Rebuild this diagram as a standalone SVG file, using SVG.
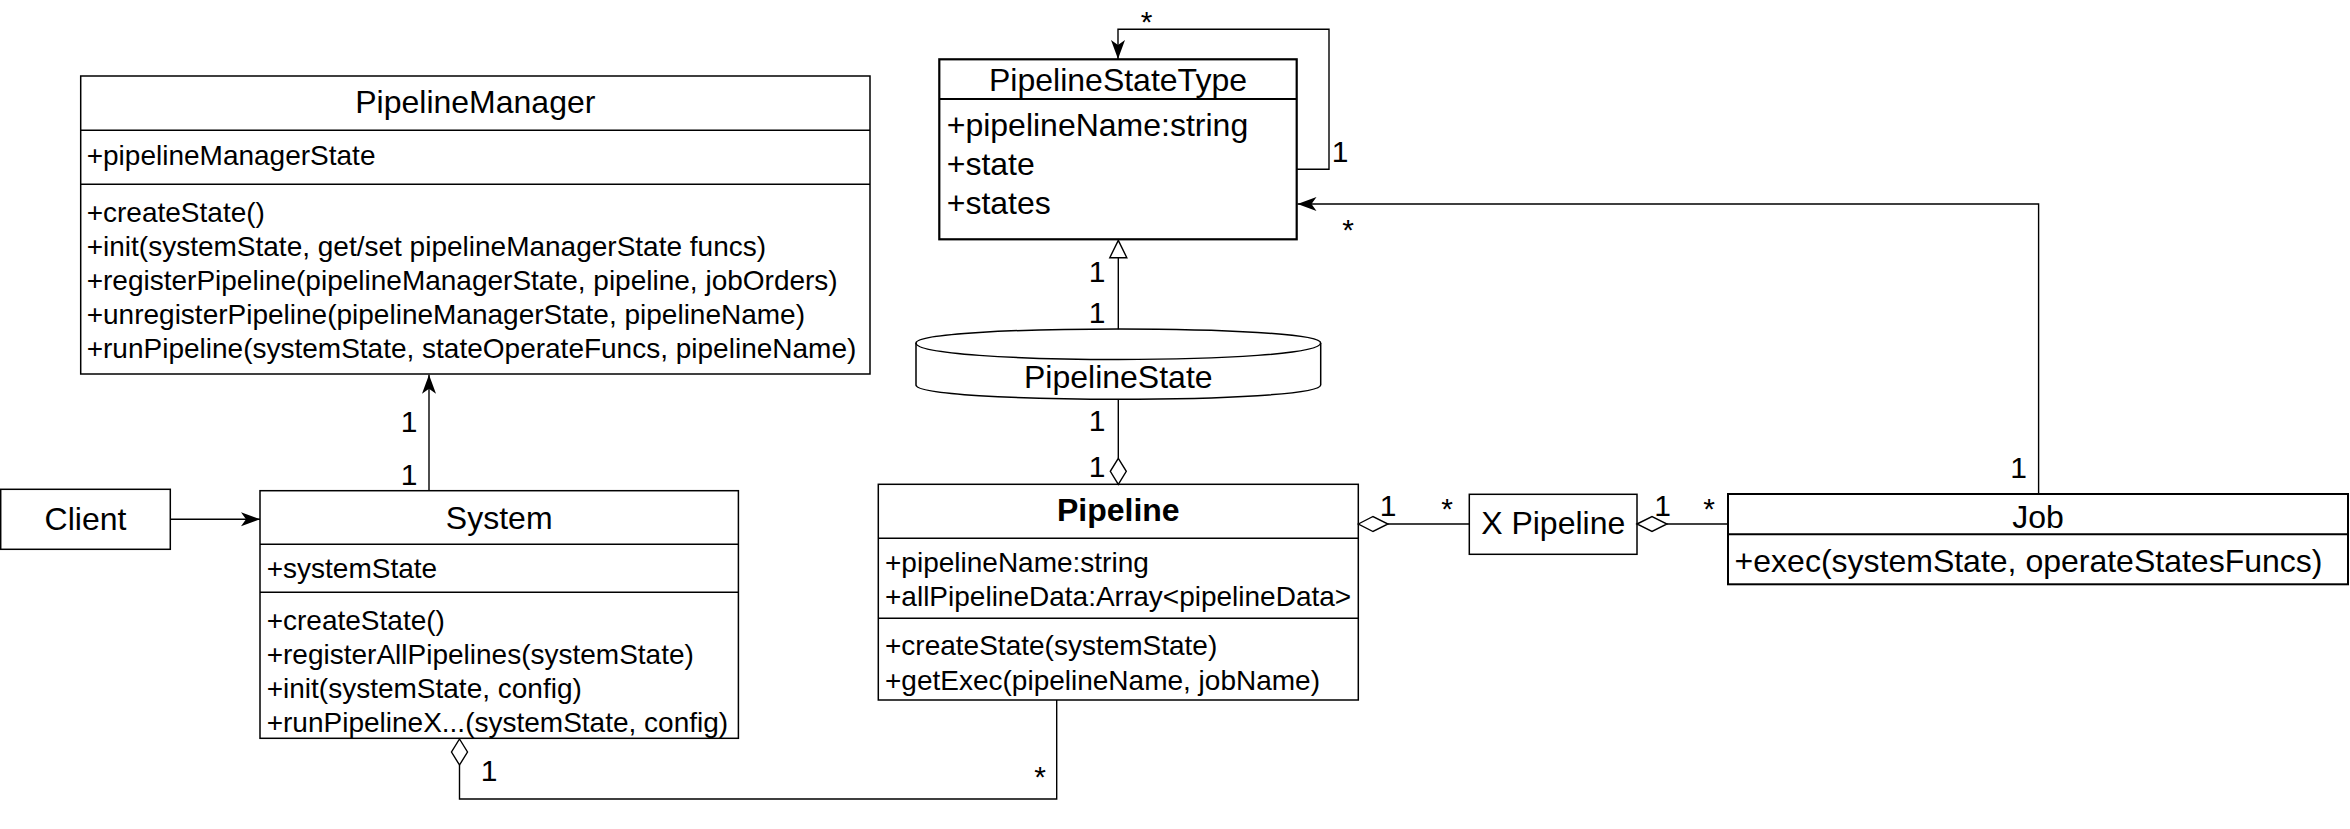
<svg xmlns="http://www.w3.org/2000/svg" width="2350" height="829" viewBox="0 0 2350 829">
<defs>
<style>
text{font-family:"Liberation Sans",Arial,Helvetica,sans-serif;fill:#000}
.box{fill:#fff;stroke:#000;stroke-width:1.5}
.div{stroke:#000;stroke-width:1.5;fill:none}
.h{font-size:32px;text-anchor:middle}
.hb{font-size:32px;text-anchor:middle;font-weight:bold}
.m{font-size:28px}
.mb{font-size:32px}
.lbl{font-size:30px;text-anchor:middle}
.con{fill:none;stroke:#000;stroke-width:1.4}
.dia{fill:#fff;stroke:#000;stroke-width:1.4}
</style>
<marker id="arr" markerUnits="userSpaceOnUse" markerWidth="20" markerHeight="16" refX="19" refY="7" orient="auto" viewBox="0 0 20 14">
<path d="M0,0 L19,7 L0,14 L5,7 Z" fill="#000"/>
</marker>
</defs>

<g id="PipelineManager">
<rect class="box" x="80.7" y="76" width="789.3" height="298"/>
<line class="div" x1="80.7" y1="130.3" x2="870" y2="130.3"/>
<line class="div" x1="80.7" y1="184.3" x2="870" y2="184.3"/>
<text class="h" x="475.3" y="113">PipelineManager</text>
<text class="m" x="86.7" y="165">+pipelineManagerState</text>
<text class="m" x="86.7" y="222">+createState()</text>
<text class="m" x="86.7" y="256">+init(systemState, get/set pipelineManagerState funcs)</text>
<text class="m" x="86.7" y="290">+registerPipeline(pipelineManagerState, pipeline, jobOrders)</text>
<text class="m" x="86.7" y="324">+unregisterPipeline(pipelineManagerState, pipelineName)</text>
<text class="m" x="86.7" y="358">+runPipeline(systemState, stateOperateFuncs, pipelineName)</text>
</g>

<g id="Client">
<rect class="box" x="0.7" y="489.3" width="169.6" height="60"/>
<text class="h" x="85.5" y="530">Client</text>
</g>

<g id="System">
<rect class="box" x="260" y="490.7" width="478.4" height="247.6"/>
<line class="div" x1="260" y1="544.3" x2="738.4" y2="544.3"/>
<line class="div" x1="260" y1="592.3" x2="738.4" y2="592.3"/>
<text class="h" x="499.2" y="528.5">System</text>
<text class="m" x="266.7" y="577.5">+systemState</text>
<text class="m" x="266.7" y="630">+createState()</text>
<text class="m" x="266.7" y="664">+registerAllPipelines(systemState)</text>
<text class="m" x="266.7" y="698">+init(systemState, config)</text>
<text class="m" x="266.7" y="732">+runPipelineX...(systemState, config)</text>
</g>

<g id="PipelineStateType">
<rect x="939.3" y="59.3" width="357.4" height="180" fill="#fff" stroke="#000" stroke-width="2.2"/>
<line x1="939.3" y1="99" x2="1296.7" y2="99" stroke="#000" stroke-width="2.2"/>
<text class="h" x="1118" y="91">PipelineStateType</text>
<text class="mb" x="946.7" y="136">+pipelineName:string</text>
<text class="mb" x="946.7" y="175">+state</text>
<text class="mb" x="946.7" y="214">+states</text>
</g>

<g id="PipelineState">
<path class="box" d="M916,343 C916,324.3 1320.7,324.3 1320.7,343 L1320.7,385 C1320.7,404 916,404 916,385 Z"/>
<path class="div" d="M916,343 C916,365 1320.7,365 1320.7,343"/>
<text class="h" x="1118.3" y="388.3">PipelineState</text>
</g>

<g id="Pipeline">
<rect class="box" x="878.3" y="484.3" width="480" height="215.7"/>
<line class="div" x1="878.3" y1="538.3" x2="1358.3" y2="538.3"/>
<line class="div" x1="878.3" y1="618.3" x2="1358.3" y2="618.3"/>
<text class="hb" x="1118.3" y="521">Pipeline</text>
<text class="m" x="885" y="572">+pipelineName:string</text>
<text class="m" x="885" y="605.5">+allPipelineData:Array&lt;pipelineData&gt;</text>
<text class="m" x="885" y="655">+createState(systemState)</text>
<text class="m" x="885" y="689.5">+getExec(pipelineName, jobName)</text>
</g>

<g id="XPipeline">
<rect class="box" x="1469.3" y="494.3" width="167.7" height="60"/>
<text class="h" x="1553.2" y="533.5">X Pipeline</text>
</g>

<g id="Job">
<rect x="1728" y="494" width="620" height="90.3" fill="#fff" stroke="#000" stroke-width="2"/>
<line x1="1728" y1="534.3" x2="2348" y2="534.3" stroke="#000" stroke-width="2"/>
<text class="h" x="2038" y="528">Job</text>
<text class="mb" x="1734.6" y="572">+exec(systemState, operateStatesFuncs)</text>
</g>

<g id="connectors">
<line class="con" x1="170.3" y1="519.3" x2="260" y2="519.3" marker-end="url(#arr)"/>
<line class="con" x1="429" y1="490.7" x2="429" y2="374.8" marker-end="url(#arr)"/>
<path class="con" d="M459.5,765 L459.5,799 L1056.7,799 L1056.7,700"/>
<polygon class="dia" points="459.5,739 467.5,752 459.5,765 451.5,752"/>
<line class="con" x1="1118.3" y1="329.3" x2="1118.3" y2="257.7"/>
<polygon class="dia" points="1118.3,240.4 1126.8,257.7 1109.8,257.7"/>
<line class="con" x1="1118.3" y1="399.3" x2="1118.3" y2="458.3"/>
<polygon class="dia" points="1118.3,458.3 1126.3,471.3 1118.3,484.3 1110.3,471.3"/>
<line class="con" x1="1388" y1="524" x2="1469.3" y2="524"/>
<polygon class="dia" points="1358.3,524 1373,516.5 1388,524 1373,531.5"/>
<line class="con" x1="1667" y1="524" x2="1728" y2="524"/>
<polygon class="dia" points="1637,524 1652,516.5 1667,524 1652,531.5"/>
<path class="con" d="M2038.6,494 L2038.6,204 L1297.5,204" marker-end="url(#arr)"/>
<path class="con" d="M1296.7,169.3 L1329,169.3 L1329,29.3 L1118,29.3 L1118,59" marker-end="url(#arr)"/>

<text class="lbl" x="409" y="432">1</text>
<text class="lbl" x="409" y="485">1</text>
<text class="lbl" x="489" y="781">1</text>
<text class="lbl" x="1040" y="787">*</text>
<text class="lbl" x="1097" y="282">1</text>
<text class="lbl" x="1097" y="323">1</text>
<text class="lbl" x="1097" y="431">1</text>
<text class="lbl" x="1097" y="477">1</text>
<text class="lbl" x="1146.7" y="32">*</text>
<text class="lbl" x="1340" y="162">1</text>
<text class="lbl" x="1348" y="240">*</text>
<text class="lbl" x="2018.5" y="478">1</text>
<text class="lbl" x="1388" y="516">1</text>
<text class="lbl" x="1447" y="519">*</text>
<text class="lbl" x="1662.5" y="516">1</text>
<text class="lbl" x="1709" y="519">*</text>
</g>
</svg>
